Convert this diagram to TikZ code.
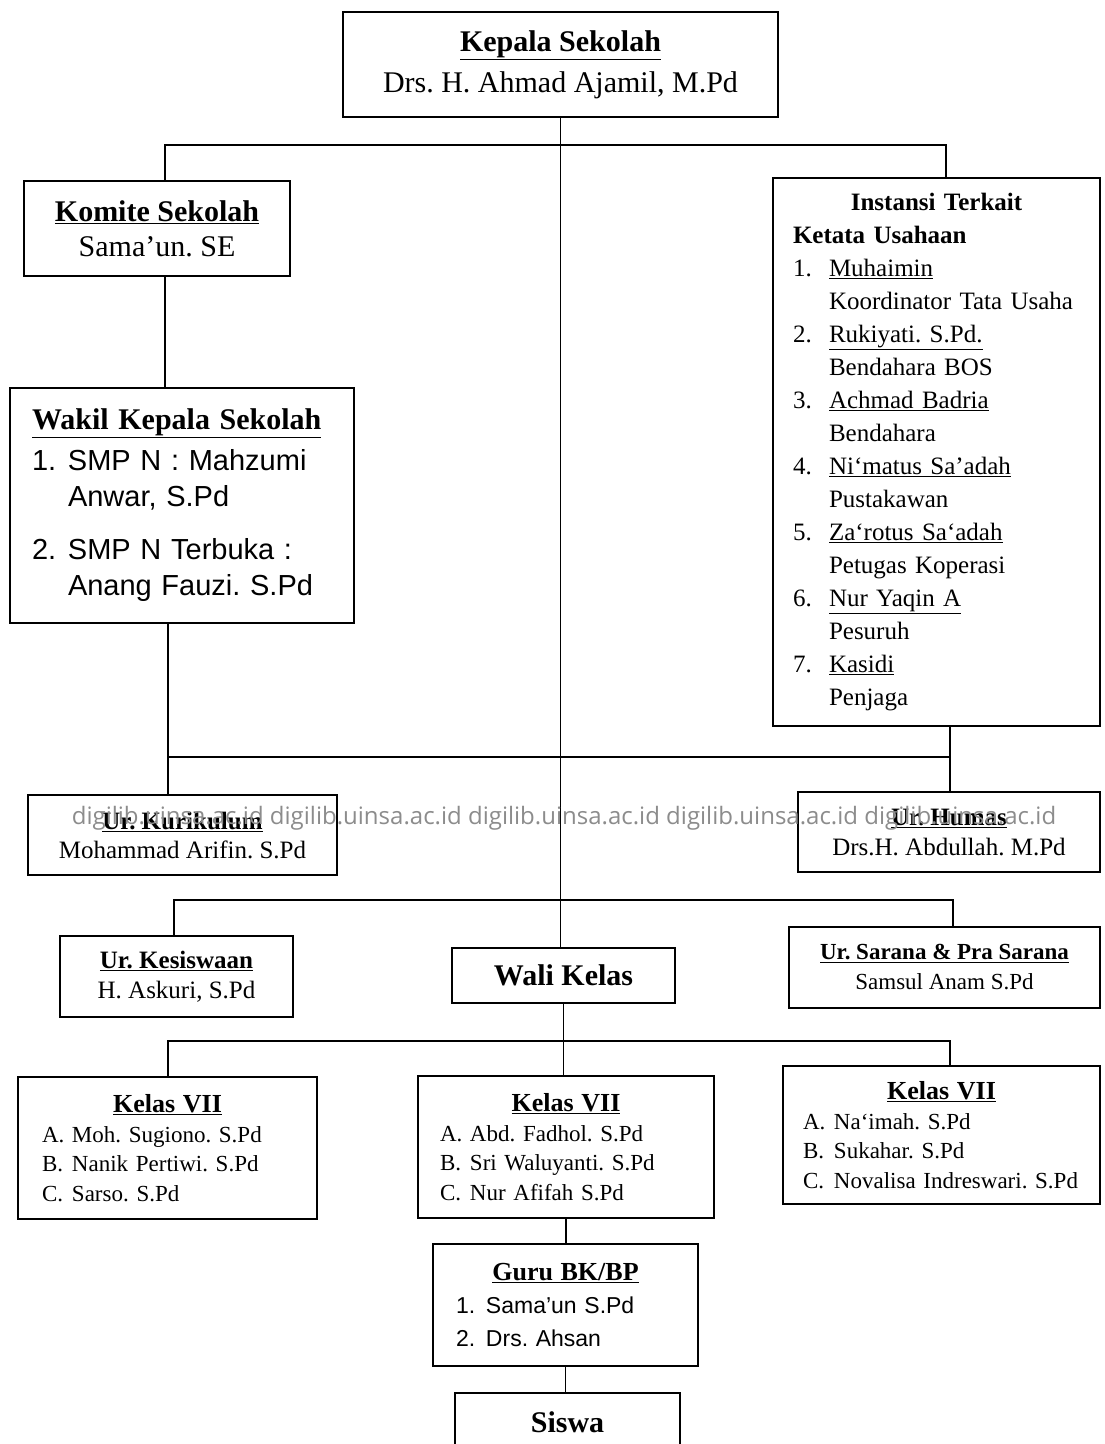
\documentclass[tikz,border=0pt]{standalone}
\usepackage{fontspec}
\setmainfont{Liberation Serif}
\setsansfont{Liberation Sans}
\newfontfamily\wmfont{Open Sans}
\usepackage{tikz}
\usetikzlibrary{positioning}
\frenchspacing
\newcommand{\undl}[1]{\underline{#1}}
\newcommand{\itemno}[2][36pt]{\makebox[#1][l]{#2}}
\newcommand{\itemgap}[1][36pt]{\hspace*{#1}}
\tikzset{
x=1pt, y=-1pt, % one unit is one pixel of the chart, y runs down
box/.style={draw, line width=2pt, inner sep=0pt, align=center}, % every box of the chart
conn/.style={line width=1.8pt}, % the lines between the boxes
big/.style={font=\fontsize{30}{41}\selectfont}, % top boxes
mid/.style={font=\fontsize{25}{30}\selectfont}, % the Ur. boxes
small/.style={font=\fontsize{23}{29.5}\selectfont, align=left}, % the Kelas boxes
watermark/.style={font=\wmfont\fontsize{24}{24}\selectfont, text=black!45, inner sep=0pt},
}

\begin{document}
\begin{tikzpicture}
\path[fill=white, use as bounding box] (0,0) rectangle (1104,1444);

% top part
\node[box, big, minimum width=435, minimum height=105] (kepala) at (560.5,64.5)
 {\undl{\textbf{Kepala Sekolah}}\\ Drs. H. Ahmad Ajamil, M.Pd};
\node[box, font=\fontsize{30}{35}\selectfont, minimum width=266, minimum height=95] (komite) at (157,228.5)
 {\undl{\textbf{Komite Sekolah}}\\ Sama’un. SE};
\node[box, align=left, text width=300, minimum width=344, minimum height=235,
 font=\sffamily\fontsize{29}{36}\selectfont] (wakil) at (182,505.5)
 {{\rmfamily\bfseries\fontsize{30}{36}\selectfont\undl{Wakil Kepala Sekolah}}\\[5pt]
 \itemno{1.}SMP N : Mahzumi\\ \itemgap Anwar, S.Pd\\[17pt]
 \itemno{2.}SMP N Terbuka :\\ \itemgap Anang Fauzi. S.Pd};
\node[box, align=left, text width=287, minimum width=327, minimum height=548,
 font=\fontsize{25}{33}\selectfont] (instansi) at (936.5,452)
 {\makebox[287pt]{\bfseries Instansi Terkait}\\
 \textbf{Ketata Usahaan}\\
 \itemno{1.}\undl{Muhaimin}\\ \itemgap Koordinator Tata Usaha\\
 \itemno{2.}\undl{Rukiyati. S.Pd.}\\ \itemgap Bendahara BOS\\
 \itemno{3.}\undl{Achmad Badria}\\ \itemgap Bendahara\\
 \itemno{4.}\undl{Ni`matus Sa’adah}\\ \itemgap Pustakawan\\
 \itemno{5.}\undl{Za`rotus Sa`adah}\\ \itemgap Petugas Koperasi\\
 \itemno{6.}\undl{Nur Yaqin A}\\ \itemgap Pesuruh\\
 \itemno{7.}\undl{Kasidi}\\ \itemgap Penjaga};

% urusan
\node[box, mid, font=\fontsize{25}{29}\selectfont, minimum width=309, minimum height=80] (kurikulum) at (182.5,835)
 {\undl{\textbf{Ur. Kurikulum}}\\ Mohammad Arifin. S.Pd};
\node[box, mid, minimum width=302, minimum height=80] (humas) at (949,832)
 {\undl{\textbf{Ur. Humas}}\\ Drs.H. Abdullah. M.Pd};
\node[box, mid, minimum width=233, minimum height=81] (kesiswaan) at (176.5,976.5)
 {\undl{\textbf{Ur. Kesiswaan}}\\ H. Askuri, S.Pd};
\node[box, font=\fontsize{23}{30}\selectfont, minimum width=311, minimum height=81] (sarana) at (944.5,967.5)
 {\undl{\textbf{Ur. Sarana \& Pra Sarana}}\\ Samsul Anam S.Pd};
\node[box, big, minimum width=223, minimum height=55] (wali) at (563.5,975.5) {\textbf{Wali Kelas}};

% kelas
\node[box, small, text width=251, minimum width=299, minimum height=142] (kelasA) at (167.5,1148)
 {\makebox[251pt]{\bfseries\fontsize{26}{29.5}\selectfont\undl{Kelas VII}}\\
 \itemno[30pt]{A.}Moh. Sugiono. S.Pd\\ \itemno[30pt]{B.}Nanik Pertiwi. S.Pd\\ \itemno[30pt]{C.}Sarso. S.Pd};
\node[box, small, text width=252, minimum width=296, minimum height=142] (kelasB) at (566,1147)
 {\makebox[252pt]{\bfseries\fontsize{26}{29.5}\selectfont\undl{Kelas VII}}\\
 \itemno[30pt]{A.}Abd. Fadhol. S.Pd\\ \itemno[30pt]{B.}Sri Waluyanti. S.Pd\\ \itemno[30pt]{C.}Nur Afifah S.Pd};
\node[box, small, text width=277, minimum width=317, minimum height=138] (kelasC) at (941.5,1135)
 {\makebox[277pt]{\bfseries\fontsize{26}{29.5}\selectfont\undl{Kelas VII}}\\
 \itemno[31pt]{A.}Na`imah. S.Pd\\ \itemno[31pt]{B.}Sukahar. S.Pd\\ \itemno[31pt]{C.}Novalisa Indreswari. S.Pd};

% bottom
\node[box, align=left, text width=219, minimum width=265, minimum height=122,
 font=\sffamily\fontsize{23}{33}\selectfont] (guru) at (565.5,1305)
 {\makebox[219pt]{\rmfamily\bfseries\fontsize{26}{33}\selectfont\undl{Guru BK/BP}}\\
 \itemno[30pt]{1.}Sama’un S.Pd\\ \itemno[30pt]{2.}Drs. Ahsan};
\node[box, big, minimum width=225, minimum height=58] (siswa) at (567.5,1422) {\textbf{Siswa}};

% junctions
\coordinate (t1) at (165,145);
\coordinate (t2) at (946,145);
\coordinate (m1) at (168,757);
\coordinate (m2) at (950,757);
\coordinate (s1) at (174,900);
\coordinate (s2) at (953,900);
\coordinate (k1) at (168,1041);
\coordinate (k2) at (950,1041);

% lines
\draw[conn] (kepala.south) -- (kepala.south |- wali.north);
\draw[conn] (komite.north -| t1) -- (t1) -- (t2) -- (instansi.north -| t2);
\draw[conn] (komite.south -| t1) -- (wakil.north -| t1);
\draw[conn] (wakil.south -| m1) -- (m1) -- (m2) -- (instansi.south -| m2);
\draw[conn] (m1) -- (kurikulum.north -| m1);
\draw[conn] (m2) -- (humas.north -| m2);
\draw[conn] (kesiswaan.north -| s1) -- (s1) -- (s2) -- (sarana.north -| s2);
\draw[conn] (wali.south) -- (wali.south |- k1);
\draw[conn] (kelasA.north -| k1) -- (k1) -- (k2) -- (kelasC.north -| k2);
\draw[conn] (wali.south |- k1) -- (kelasB.north -| wali.south);
\draw[conn] (kelasB.south) -- (guru.north -| kelasB.south);
\draw[conn] (guru.south) -- (guru.south |- siswa.north);

\node[watermark] (wm) at (564,818)
 {digilib.uinsa.ac.id digilib.uinsa.ac.id digilib.uinsa.ac.id digilib.uinsa.ac.id digilib.uinsa.ac.id};
\end{tikzpicture}
\end{document}
